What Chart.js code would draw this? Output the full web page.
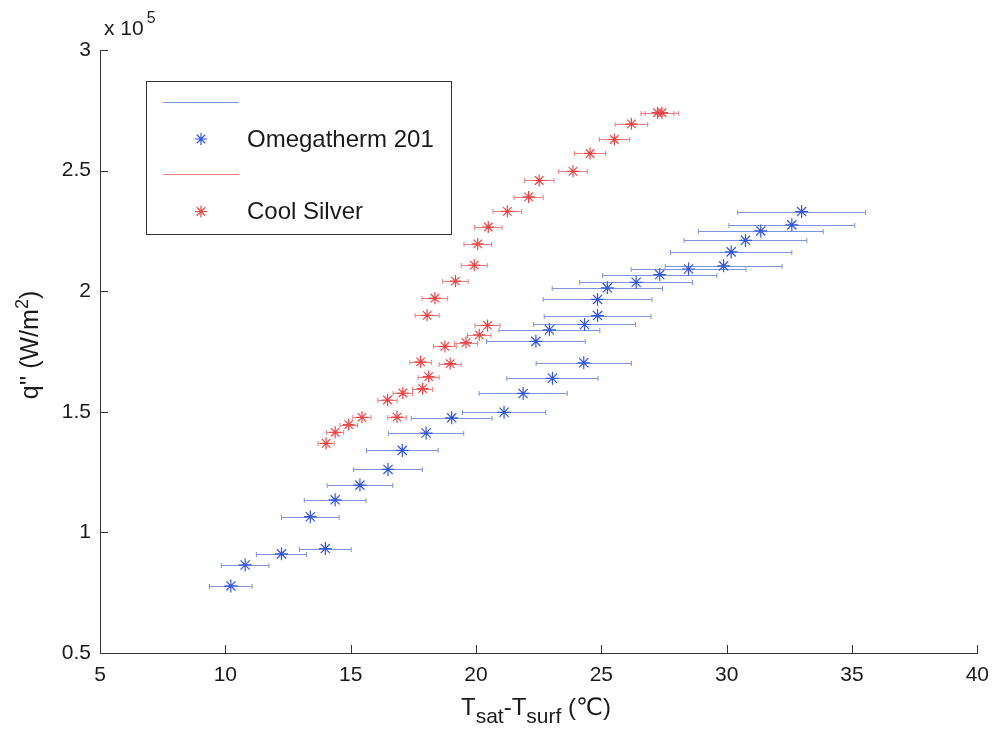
<!DOCTYPE html>
<html><head><meta charset="utf-8">
<script src="https://cdn.jsdelivr.net/npm/chart.js@4.4.1/dist/chart.umd.min.js"></script>
<style>html,body{margin:0;padding:0;background:#fff;}#wrap{width:999px;height:734px;position:relative;}</style>
</head><body><div id="wrap"><canvas id="c" width="999" height="734"></canvas></div>
<script>
// ---- data (x: Tsat - Tsurf in °C, q'' in W/m^2, xErr: half-width of horizontal error bar in °C)
const omegaX = [10.22,10.79,12.24,13.99,13.39,14.38,15.37,16.49,17.06,18.01,19.03,21.12,21.88,23.05,24.30,22.39,22.93,24.33,24.85,24.85,25.24,26.39,27.33,28.48,29.88,30.18,30.75,31.36,32.60,32.99];
const omegaQ = [77800,86500,91100,93300,106500,113500,119600,126100,134000,141200,147500,149800,157600,163900,170300,179200,184000,186200,189900,196600,201400,203700,206900,209200,210500,216300,221100,225000,227500,233000];
const omegaXErr = [0.85,0.95,1.00,1.03,1.15,1.23,1.31,1.37,1.43,1.50,1.61,1.66,1.76,1.82,1.90,1.97,2.01,2.03,2.13,2.17,2.20,2.25,2.28,2.29,2.33,2.42,2.45,2.49,2.51,2.55];
const silverX = [14.02,14.38,14.92,15.45,16.85,16.47,17.08,17.87,18.11,17.79,18.97,18.76,19.60,20.13,20.46,18.05,18.36,19.18,19.93,20.07,20.49,21.25,22.10,22.52,23.87,24.55,25.52,26.20,27.24,27.42];
const silverQ = [136900,141500,144700,147700,147800,154900,157800,159600,164600,170700,170000,177100,178700,181900,185800,190000,197100,204200,210800,219600,226600,233100,239100,245900,249700,257100,262900,269400,274000,274000];
const silverXErr = [0.32,0.34,0.35,0.36,0.37,0.38,0.39,0.40,0.42,0.43,0.44,0.45,0.46,0.47,0.50,0.48,0.51,0.51,0.52,0.55,0.55,0.57,0.58,0.59,0.57,0.62,0.60,0.65,0.66,0.67];
const seriesNames = ['Omegatherm 201','Cool Silver'];
const xTicks = [5,10,15,20,25,30,35,40];
const yTicks = [50000,100000,150000,200000,250000,300000];

const FONT = "'Liberation Sans', Arial, Helvetica, 'DejaVu Sans', sans-serif";
const TXT = '#1a1a1a';
const BLUE = '#3457e0', BLUE_ERR = '#7a94e2';
const RED = '#ee4646', RED_ERR = '#f07c7c';

function pts(xs, ys){ return xs.map((x,i)=>({x:x, y:ys[i]})); }

function drawStar(ctx, x, y, r, color){
  ctx.save(); ctx.strokeStyle = color; ctx.lineWidth = 1.2; ctx.beginPath();
  const d = r*Math.SQRT1_2;
  ctx.moveTo(x-r,y); ctx.lineTo(x+r,y); ctx.moveTo(x,y-r); ctx.lineTo(x,y+r);
  ctx.moveTo(x-d,y-d); ctx.lineTo(x+d,y+d); ctx.moveTo(x-d,y+d); ctx.lineTo(x+d,y-d);
  ctx.stroke(); ctx.restore();
}

const errorBars = {
  id: 'errorBars',
  beforeDatasetsDraw(chart){
    const ctx = chart.ctx, xs = chart.scales.x, ys = chart.scales.y;
    chart.data.datasets.forEach(ds => {
      ctx.save(); ctx.strokeStyle = ds.errColor; ctx.lineWidth = 1;
      ds.data.forEach((p,i) => {
        const e = ds.xErr[i];
        const x0 = xs.getPixelForValue(p.x - e), x1 = xs.getPixelForValue(p.x + e), y = Math.round(ys.getPixelForValue(p.y)) + 0.5;
        ctx.beginPath();
        ctx.moveTo(x0,y); ctx.lineTo(x1,y);
        ctx.moveTo(x0,y-2.5); ctx.lineTo(x0,y+2.5);
        ctx.moveTo(x1,y-2.5); ctx.lineTo(x1,y+2.5);
        ctx.stroke();
      });
      ctx.restore();
    });
  }
};

function drawParts(ctx, parts, cx, baseY){
  let total = 0;
  parts.forEach(p => { ctx.font = p[1] + 'px ' + FONT; total += ctx.measureText(p[0]).width; });
  let x = cx - total/2;
  parts.forEach(p => { ctx.font = p[1] + 'px ' + FONT; ctx.fillText(p[0], x, baseY + p[2]); x += ctx.measureText(p[0]).width; });
}

const decorations = {
  id: 'decorations',
  afterDraw(chart){
    const ctx = chart.ctx, xs = chart.scales.x, ys = chart.scales.y, a = chart.chartArea;
    ctx.save();
    // inward ticks
    ctx.strokeStyle = '#333'; ctx.lineWidth = 1; ctx.beginPath();
    xTicks.forEach(v => { const px = Math.round(xs.getPixelForValue(v)) + 0.5; ctx.moveTo(px, a.bottom); ctx.lineTo(px, a.bottom - 8); });
    yTicks.forEach(v => { const py = Math.round(ys.getPixelForValue(v)) + 0.5; ctx.moveTo(a.left, py); ctx.lineTo(a.left + 8, py); });
    ctx.stroke();

    ctx.fillStyle = TXT; ctx.textBaseline = 'alphabetic'; ctx.textAlign = 'left';
    // exponent label
    ctx.font = '21px ' + FONT;
    ctx.fillText('x 10', 104, 35);
    const w10 = ctx.measureText('x 10').width;
    ctx.font = '16px ' + FONT;
    ctx.fillText('5', 104 + w10 + 3, 23);

    // x axis title with subscripts
    drawParts(ctx, [['T',24,0],['sat',21,8],['-T',24,0],['surf',21,8],[' (\u2103)',24,0]], 536, 715);

    // y axis title
    ctx.save();
    ctx.translate(38, 345); ctx.rotate(-Math.PI/2);
    drawParts(ctx, [["q'' (W/m",25,0],['2',18,-10],[')',25,0]], 0, 0);
    ctx.restore();

    // legend box
    const L = 146.5, T = 81.5, R = 451.5, B = 234.5;
    ctx.fillStyle = '#fff'; ctx.fillRect(L, T, R-L, B-T);
    ctx.strokeStyle = '#333'; ctx.lineWidth = 1; ctx.strokeRect(L, T, R-L, B-T);
    const ds = chart.data.datasets;
    const rows = [[102.5, 139, ds[0]], [174.5, 211.5, ds[1]]];
    rows.forEach(r => {
      ctx.strokeStyle = r[2].errColor; ctx.lineWidth = 1; ctx.beginPath(); ctx.moveTo(163, r[0]); ctx.lineTo(239, r[0]); ctx.stroke();
      drawStar(ctx, 201, r[1], 6, r[2].borderColor);
      ctx.fillStyle = TXT; ctx.font = '24px ' + FONT; ctx.textBaseline = 'middle';
      ctx.fillText(r[2].label, 247, r[1] + 1);
    });
    ctx.restore();
  }
};

new Chart(document.getElementById('c'), {
  type: 'scatter',
  data: {
    datasets: [
      { label: seriesNames[0], data: pts(omegaX, omegaQ), xErr: omegaXErr, errColor: BLUE_ERR,
        borderColor: BLUE, backgroundColor: BLUE, pointStyle: 'star', pointRadius: 6.5, pointBorderWidth: 1.2, showLine: false },
      { label: seriesNames[1], data: pts(silverX, silverQ), xErr: silverXErr, errColor: RED_ERR,
        borderColor: RED, backgroundColor: RED, pointStyle: 'star', pointRadius: 6, pointBorderWidth: 1.2, showLine: false }
    ]
  },
  options: {
    responsive: false, animation: false, devicePixelRatio: 1,
    layout: { padding: { left: 0, right: 16, top: 50, bottom: 0 } },
    plugins: { legend: { display: false }, tooltip: { enabled: false } },
    scales: {
      x: {
        type: 'linear', min: 5, max: 40,
        afterBuildTicks: s => { s.ticks = xTicks.map(v => ({value: v})); },
        afterFit: s => { s.height = 81; },
        grid: { display: false, drawTicks: false },
        border: { display: true, color: '#333', width: 1 },
        ticks: { color: TXT, font: { family: FONT, size: 21 }, padding: 10, maxRotation: 0, callback: v => String(v) }
      },
      y: {
        type: 'linear', min: 50000, max: 300000,
        afterBuildTicks: s => { s.ticks = yTicks.map(v => ({value: v})); },
        afterFit: s => { s.width = 100; },
        grid: { display: false, drawTicks: false },
        border: { display: true, color: '#333', width: 1 },
        ticks: { color: TXT, font: { family: FONT, size: 21 }, padding: 9, callback: v => String(v / 100000) }
      }
    }
  },
  plugins: [errorBars, decorations]
});
</script></body></html>
